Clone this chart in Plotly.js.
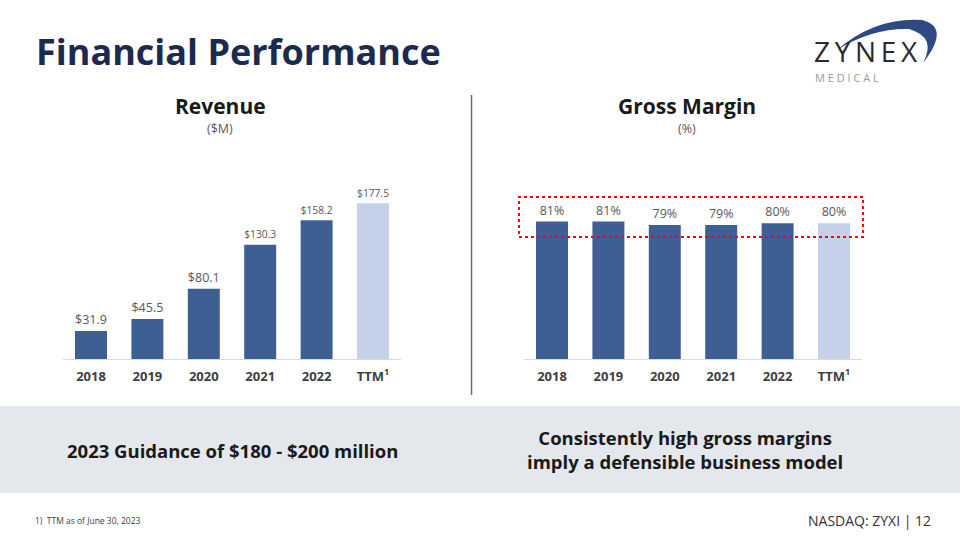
<!DOCTYPE html>
<html>
<head>
<meta charset="utf-8">
<script src="https://cdn.plot.ly/plotly-3.0.1.min.js"></script>
<style>html,body{margin:0;padding:0;background:#fff;}#chart{width:960px;height:540px;}</style>
</head>
<body>
<div id="chart"></div>
<script>
// ---- Data ----
const categories = ["2018", "2019", "2020", "2021", "2022", "TTM"];
const tickLabels = ["2018", "2019", "2020", "2021", "2022", "TTM<sup>1</sup>"];
const revenue = [31.9, 45.5, 80.1, 130.3, 158.2, 177.5];
const grossMargin = [81, 81, 79, 79, 80, 80];

// ---- Helpers (pixel -> paper) ----
const W = 960, H = 540;
const X = px => px / W;
const Y = py => 1 - py / H;

const dark = "#3E5F94", light = "#C5D0EA";
const barColors = categories.map(c => c === "TTM" ? light : dark);
const FONT = "Open Sans, Lato, sans-serif";

const baseBar = {
  type: "bar",
  x: categories,
  marker: {color: barColors, line: {width: 0}},
  textposition: "outside",
  cliponaxis: false,
  textfont: {family: FONT, size: 12.5, color: "#595959"},
  hoverinfo: "skip"
};

const traces = [
  Object.assign({}, baseBar, {y: revenue, texttemplate: "$%{y:.1f}", xaxis: "x", yaxis: "y"}),
  Object.assign({}, baseBar, {y: grossMargin, texttemplate: "%{y}%", xaxis: "x2", yaxis: "y2"})
];

const yTop = 150, yBase = 359;
const revScale = 0.877, gmScale = 1.697;

const xCommon = {
  type: "category",
  range: [-0.5, 5.5],
  showgrid: false, zeroline: false,
  showline: true, linecolor: "#D9D9D9", linewidth: 1,
  ticks: "", ticklen: 0, ticklabelstandoff: 5,
  tickvals: categories, ticktext: tickLabels,
  tickfont: {family: FONT, size: 13, color: "#404040", weight: "bold"},
  fixedrange: true
};
const yCommon = {
  showgrid: false, zeroline: false, showline: false, showticklabels: false, ticks: "",
  domain: [Y(yBase), Y(yTop)], fixedrange: true
};

function ann(text, xpx, ypx, size, color, opts) {
  return Object.assign({
    text: text, xref: "paper", yref: "paper", x: X(xpx), y: Y(ypx),
    xanchor: "center", yanchor: "middle", showarrow: false,
    font: {family: FONT, size: size, color: color}
  }, opts || {});
}

function swooshPath() {
  const pts = [[837,50],[875,17],[922,20],[951,27],[923,63],[937,37],[909,29],[872,28],[837,50]];
  const p = pts.map(a => [X(a[0]), Y(a[1])]);
  return `M ${p[0][0]} ${p[0][1]} Q ${p[1][0]} ${p[1][1]} ${p[2][0]} ${p[2][1]} Q ${p[3][0]} ${p[3][1]} ${p[4][0]} ${p[4][1]} Q ${p[5][0]} ${p[5][1]} ${p[6][0]} ${p[6][1]} Q ${p[7][0]} ${p[7][1]} ${p[8][0]} ${p[8][1]} Z`;
}

const layout = {
  width: W, height: H,
  margin: {l: 0, r: 0, t: 0, b: 0},
  paper_bgcolor: "#ffffff", plot_bgcolor: "rgba(0,0,0,0)",
  showlegend: false,
  bargap: 0.433,
  xaxis: Object.assign({}, xCommon, {domain: [X(62.8), X(401.2)], anchor: "y"}),
  yaxis: Object.assign({}, yCommon, {range: [0, (yBase - yTop) / revScale], anchor: "x"}),
  xaxis2: Object.assign({}, xCommon, {domain: [X(523.8), X(862.2)], anchor: "y2"}),
  yaxis2: Object.assign({}, yCommon, {range: [0, (yBase - yTop) / gmScale], anchor: "x2"}),
  shapes: [
    {type: "rect", xref: "paper", yref: "paper", x0: 0, x1: 1, y0: Y(493), y1: Y(406),
     fillcolor: "#E4E7EC", line: {width: 0}, layer: "below"},
    {type: "line", xref: "paper", yref: "paper", x0: X(471.5), x1: X(471.5), y0: Y(95), y1: Y(395),
     line: {color: "#6E6E6E", width: 1.5}},
    {type: "rect", xref: "paper", yref: "paper", x0: X(519), x1: X(863), y0: Y(237), y1: Y(197),
     line: {color: "#FF0000", width: 2, dash: "dot"}, fillcolor: "rgba(0,0,0,0)", layer: "above"},
    {type: "path", xref: "paper", yref: "paper", layer: "below", path: swooshPath(),
     fillcolor: "#2E4A82", line: {width: 0}}
  ],
  annotations: [
    ann("<b>Financial Performance</b>", 34, 51, 36, "#1B2A4E", {xanchor: "left"}),
    ann("<b>Revenue</b>", 220, 106, 21, "#1A1A1A"),
    ann("($M)", 220, 128, 12.5, "#595959"),
    ann("<b>Gross Margin</b>", 687, 106, 21, "#1A1A1A"),
    ann("(%)", 687, 128, 12.5, "#595959"),
    ann("<b>2023 Guidance of $180 - $200 million</b>", 232, 450, 18.5, "#1A1A1A"),
    ann("<b>Consistently high gross margins<br>imply a defensible business model</b>", 685, 449, 18.5, "#1A1A1A"),
    ann("1)  TTM as of June 30, 2023", 33, 520, 8.5, "#404040", {xanchor: "left"}),
    ann("NASDAQ: ZYXI | 12", 933, 520, 14, "#333333", {xanchor: "right"}),
    ann("Z\u2009Y\u2009N\u2009E\u2009X", 866, 51, 28, "#2B2B2B", {font: {family: "Open Sans, sans-serif", size: 28, color: "#2B2B2B"}}),
    ann("M E D I C A L", 847, 78, 11, "#9A9A9A")
  ]
};

Plotly.newPlot("chart", traces, layout, {displayModeBar: false, staticPlot: true});
</script>
</body>
</html>
